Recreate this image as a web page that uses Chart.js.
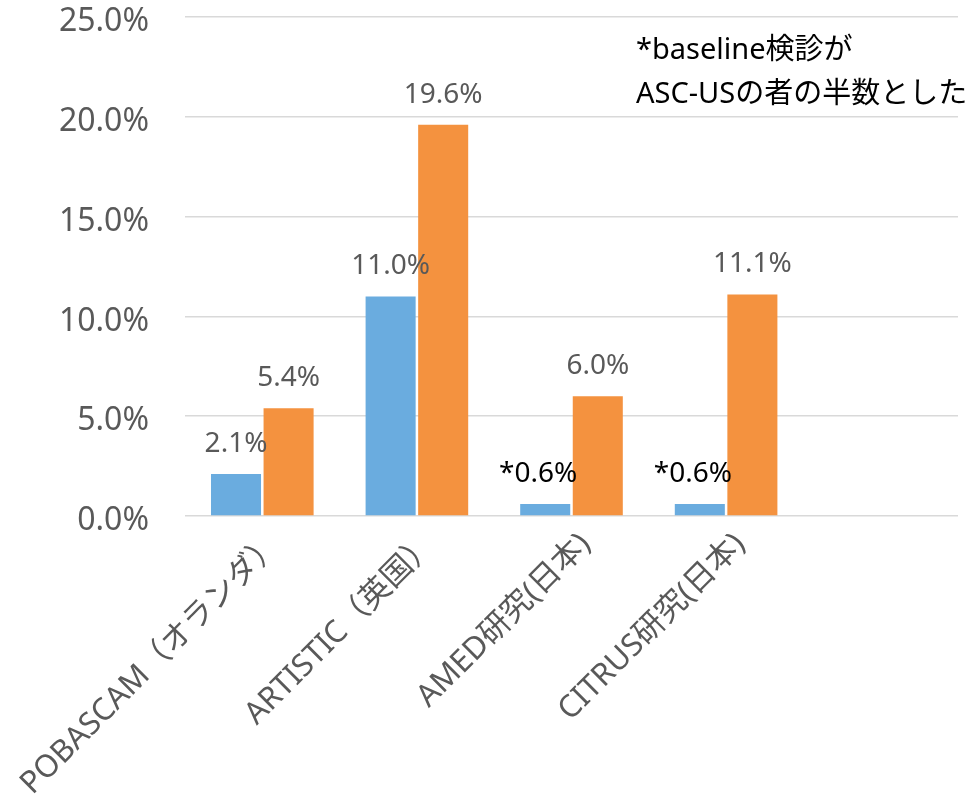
<!DOCTYPE html>
<html>
<head>
<meta charset="utf-8">
<script src="https://cdn.jsdelivr.net/npm/chart.js@4.4.1/dist/chart.umd.min.js"></script>
<style>
  body { margin: 0; background: #fff; }
</style>
</head>
<body>
<canvas id="rateChart" width="970" height="812"></canvas>
<script>
// data
const studies = ["POBASCAM（オランダ）", "ARTISTIC（英国）", "AMED研究(日本)", "CITRUS研究(日本)", ""];
const blueValues = [2.1, 11.0, 0.6, 0.6];
const orangeValues = [5.4, 19.6, 6.0, 11.1];
const blueMarks = ["", "", "*", "*"]; // * = estimated value (see note)
const noteLines = ["*baseline検診が", "ASC-USの者の半数とした"];

const FONT = "'Noto Sans', 'Noto Sans CJK JP', sans-serif";
const grey = "#595959";

// draws the value labels above the bars
const barLabels = {
  id: "barLabels",
  afterDatasetsDraw(chart) {
    const ctx = chart.ctx;
    ctx.save();
    ctx.font = "28px " + FONT;
    ctx.textAlign = "center";
    ctx.textBaseline = "alphabetic";
    chart.data.datasets.forEach((ds, di) => {
      const meta = chart.getDatasetMeta(di);
      meta.data.forEach((bar, i) => {
        const v = ds.data[i];
        if (v == null) return;
        const mark = di === 0 ? blueMarks[i] : "";
        ctx.fillStyle = mark ? "#000" : grey;
        // starred labels sit a little left, like the original
        const shift = mark ? -7 : 0;
        ctx.fillText(mark + v.toFixed(1) + "%", bar.x + shift, bar.y - 22);
      });
    });
    ctx.restore();
  }
};

// the note in the top right corner
const note = {
  id: "note",
  afterDraw(chart) {
    const ctx = chart.ctx;
    ctx.save();
    ctx.font = "29px " + FONT;
    ctx.fillStyle = "#000";
    ctx.textAlign = "left";
    ctx.fillText(noteLines[0], 636, 59);
    ctx.fillText(noteLines[1], 636, 103);
    ctx.restore();
  }
};

new Chart(document.getElementById("rateChart"), {
  type: "bar",
  data: {
    labels: studies,
    datasets: [
      {
        label: "系列1",
        data: blueValues,
        backgroundColor: "#6aacdf",
      },
      {
        label: "系列2",
        data: orangeValues,
        backgroundColor: "#f4923f",
      }
    ],
  },
  options: {
    responsive: false,
    animation: false,
    categoryPercentage: 0.68,
    barPercentage: 0.952,
    layout: {
      padding: { top: 17, right: 12, left: 0, bottom: 0 }
    },
    plugins: {
      legend: { display: false },
      tooltip: { enabled: false },
    },
    scales: {
      x: {
        grid: { display: false, drawTicks: false },
        border: { display: false },
        ticks: {
          autoSkip: false,
          maxRotation: 45,
          minRotation: 45,
          padding: 10,
          labelOffset: 14,
          color: grey,
          font: { family: FONT, size: 31 },
        },
        afterFit(scale) {
          scale.height = 296;
          scale.paddingLeft = 0;
          scale.paddingRight = 0;
        },
      },
      y: {
        min: 0,
        max: 25,
        grid: { color: "#d9d9d9", lineWidth: 1.5, drawTicks: false },
        border: { display: false },
        ticks: {
          stepSize: 5,
          padding: 36,
          labelOffset: 5,
          color: grey,
          font: { family: FONT, size: 32, lineHeight: 1 },
          callback: (v) => v.toFixed(1) + "%",
        },
        afterFit(scale) {
          scale.width = 185;
          scale.paddingTop = 0;
          scale.paddingBottom = 0;
        },
      },
    },
  },
  plugins: [barLabels, note],
});
</script>
</body>
</html>
